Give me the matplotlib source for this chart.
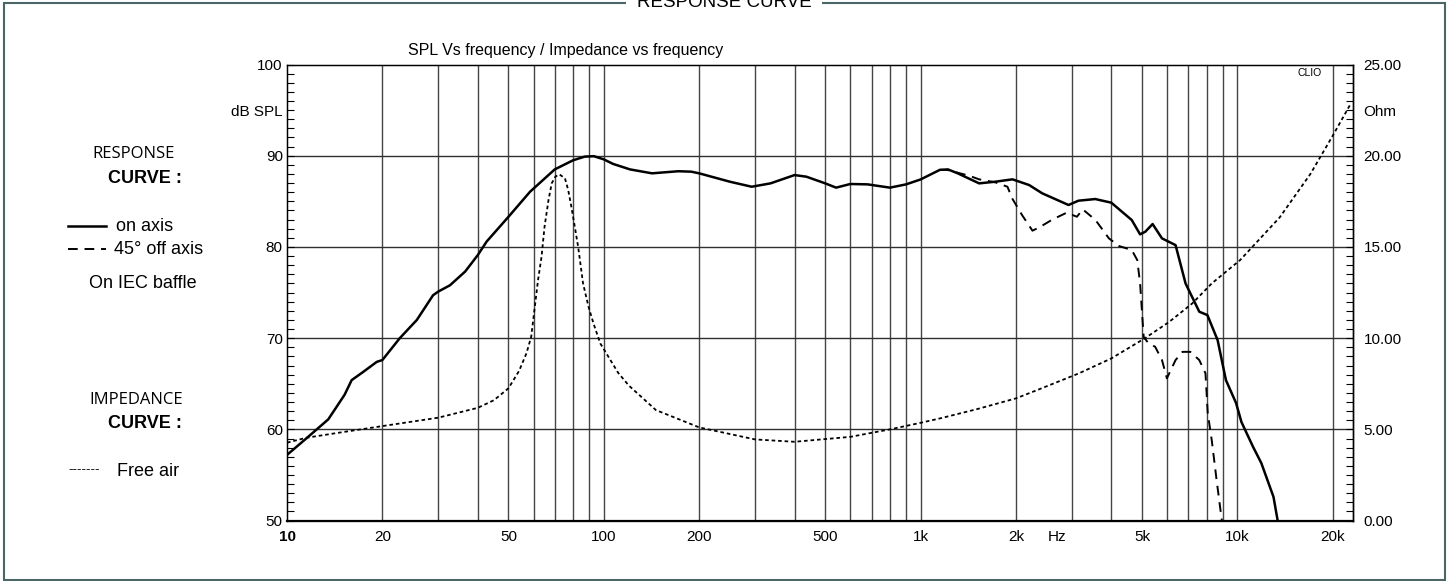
import numpy as np
import matplotlib
matplotlib.use('Agg')
import matplotlib.pyplot as plt
from matplotlib.lines import Line2D
from matplotlib.patches import Rectangle
from matplotlib.ticker import NullLocator

plt.rcParams['font.family'] = ['Liberation Sans', 'DejaVu Sans']

# SPL on axis (Hz, dB)
on_freq = [10, 11.5, 13.5, 15.2, 16.0, 17.4, 19.2, 20, 22.7, 25.7, 28.9, 30, 32.7, 36.5,
           40, 42.7, 50, 58.5, 70, 80, 87, 93, 100, 107, 121, 142, 172, 189, 200, 250,
           293, 336, 400, 436, 500, 541, 600, 680, 800, 900, 1000, 1150, 1220, 1310,
           1530, 1720, 1950, 2200, 2420, 2930, 3150, 3560, 4000, 4640, 4930, 5120, 5400,
           5780, 6380, 6860, 7580, 8040, 8660, 9200, 9900, 10300, 11200, 11900, 13000,
           13400, 13800]
on_spl = [57.2, 59.0, 61.1, 63.8, 65.4, 66.3, 67.4, 67.6, 70.0, 72.0, 74.7, 75.1, 75.8, 77.3,
          79.1, 80.6, 83.3, 86.05, 88.5, 89.5, 89.9, 89.95, 89.6, 89.1, 88.5, 88.07, 88.3,
          88.25, 88.07, 87.15, 86.6, 86.97, 87.88, 87.7, 86.97, 86.5, 86.9, 86.86, 86.5,
          86.86, 87.4, 88.45, 88.5, 88.07, 86.97, 87.15, 87.41, 86.79, 85.88, 84.6, 85.07,
          85.25, 84.85, 82.95, 81.38, 81.67, 82.51, 80.94, 80.2, 76.0, 72.9, 72.53, 69.79,
          65.4, 62.9, 60.8, 58.1, 56.3, 52.6, 50.0, 48.0]

# SPL 45 deg off axis (Hz, dB)
off_freq = [1150, 1220, 1433, 1530, 1722, 1880, 1945, 2090, 2255, 2370, 2615, 2890, 3115,
            3250, 3565, 3930, 4230, 4640, 4830, 4930, 5060, 5240, 5500, 5780, 5990, 6380,
            6710, 7100, 7580, 7930, 8060, 8300, 8600, 8900, 9100]
off_spl = [88.45, 88.43, 87.77, 87.41, 87.08, 86.6, 85.33, 83.5, 81.78, 82.15, 83.03, 83.75,
           83.31, 84.12, 82.95, 80.94, 80.1, 79.66, 78.56, 76.0, 70.15, 69.43, 69.06, 67.6,
           65.6, 67.6, 68.5, 68.5, 67.6, 66.14, 61.8, 58.8, 54.4, 50.4, 48.0]

# impedance free air (Hz, Ohm)
imp_freq = [10, 11.5, 15, 20, 30, 40, 45, 50, 54, 57, 59, 62, 63.6, 65, 66.9, 68.5, 70.3,
            72.4, 75.4, 77.2, 79, 81, 83, 86, 89.5, 92.8, 97.5, 111, 120, 146, 200, 300,
            400, 600, 800, 1000, 1150, 1500, 2000, 2330, 3160, 4000, 5100, 6100, 7200,
            8300, 10200, 13600, 17000, 20000, 22700]
imp_ohm = [4.27, 4.54, 4.85, 5.18, 5.64, 6.18, 6.6, 7.25, 8.2, 9.17, 10.08, 13.18, 14.46,
           16.1, 17.57, 18.49, 18.85, 18.98, 18.76, 18.12, 17.2, 16.1, 15.0, 13.0, 11.72,
           10.8, 9.71, 8.1, 7.4, 6.06, 5.11, 4.45, 4.32, 4.59, 5.0, 5.36, 5.6, 6.1, 6.7,
           7.15, 8.07, 8.89, 9.99, 10.9, 11.9, 13.0, 14.28, 16.62, 19.0, 21.1, 22.8]

x_ticks = [10, 20, 50, 100, 200, 500, 1000, 2000, 2700, 5000, 10000, 20000]
x_labels = ['10', '20', '50', '100', '200', '500', '1k', '2k', 'Hz', '5k', '10k', '20k']
spl_ticks = [50, 60, 70, 80, 90, 95, 100]
spl_labels = ['50', '60', '70', '80', '90', 'dB SPL', '100']
ohm_ticks = [0, 5, 10, 15, 20, 22.5, 25]
ohm_labels = ['0.00', '5.00', '10.00', '15.00', '20.00', 'Ohm', '25.00']

W, H = 1453, 581


def fx(x):
    return x / W


def fy(y):
    return 1 - y / H


fig = plt.figure(figsize=(W / 100, H / 100), dpi=100)
ax = fig.add_axes([fx(287), fy(520.6), (1352.6 - 287) / W, (520.6 - 64.5) / H])
ax.set_xscale('log')
ax.set_xlim(10, 10 ** (1 + (1352.6 - 287) / 316.8))
ax.set_ylim(50, 100)

# grid
grid_f = [m * 10 ** d for d in range(1, 5) for m in range(2, 10) if m * 10 ** d < 22000]
grid_f += [100, 1000, 10000]
for f in grid_f:
    ax.axvline(f, color='#454545', lw=1.0, zorder=1)
for v in [60, 70, 80, 90]:
    ax.axhline(v, color='#303030', lw=1.0, zorder=1)

ax.plot(on_freq, on_spl, color='black', lw=1.8, zorder=4, solid_joinstyle='round')
ax.plot(off_freq, off_spl, color='black', lw=1.4, ls=(0, (5, 3.5)), zorder=3)

ax.set_xticks(x_ticks, x_labels)
ax.xaxis.set_minor_locator(NullLocator())
ax.tick_params(axis='x', length=0, pad=7, labelsize=11)
ax.get_xticklabels()[0].set_fontweight('bold')
ax.set_yticks(spl_ticks, spl_labels)
ax.set_yticks(np.arange(50, 101, 1), minor=True)
ax.tick_params(axis='y', which='both', direction='in', length=5, width=0.8, pad=3,
               labelsize=11)
for s in ['top', 'left', 'right']:
    ax.spines[s].set_linewidth(1.0)
ax.spines['bottom'].set_linewidth(1.6)

ax2 = ax.twinx()
ax2.set_ylim(0, 25)
ax2.plot(imp_freq, imp_ohm, color='black', lw=1.3, ls=(0, (2, 1.6)), zorder=3)
ax2.set_yticks(ohm_ticks, ohm_labels)
ax2.set_yticks(np.arange(0, 25.01, 0.5), minor=True)
ax2.tick_params(axis='y', which='both', direction='in', length=5, width=0.8, pad=8,
                labelsize=11)
ax2.spines['right'].set_linewidth(1.0)

# texts
fig.text(fx(566), fy(55), 'SPL Vs frequency / Impedance vs frequency', fontsize=11.5,
         ha='center', va='baseline')
fig.text(fx(1310), fy(73), 'CLIO', fontsize=7.5, ha='center', va='center')

# outer frame
fig.add_artist(Rectangle((fx(3.5), fy(579.5)), (1445 - 3.5) / W, (579.5 - 3) / H,
                         transform=fig.transFigure, fill=False, ec='#4a6666', lw=1.5))
fig.text(fx(724), fy(7), 'RESPONSE CURVE', fontsize=13.5, ha='center', va='baseline',
         bbox=dict(fc='white', ec='none', pad=8))

# left legend
fig.text(fx(134), fy(154), 'RESPONSE', family=['Open Sans', 'DejaVu Sans'], fontsize=12,
         ha='center', va='center')
fig.text(fx(145), fy(178.5), 'CURVE :', fontsize=13, fontweight='bold', ha='center', va='center')
fig.add_artist(Line2D([fx(68), fx(106)], [fy(226), fy(226)], transform=fig.transFigure,
                      color='black', lw=1.8))
fig.text(fx(116), fy(226), 'on axis', fontsize=13, ha='left', va='center')
fig.add_artist(Line2D([fx(68), fx(106)], [fy(249), fy(249)], transform=fig.transFigure,
                      color='black', lw=1.4, ls=(0, (5, 3.5))))
fig.text(fx(114), fy(249), '45° off axis', fontsize=13, ha='left', va='center')
fig.text(fx(89), fy(284), 'On IEC baffle', fontsize=13, ha='left', va='center')
fig.text(fx(136), fy(400), 'IMPEDANCE', family=['Open Sans', 'DejaVu Sans'], fontsize=12,
         ha='center', va='center')
fig.text(fx(145), fy(423), 'CURVE :', fontsize=13, fontweight='bold', ha='center', va='center')
fig.text(fx(68), fy(470), '-------', fontsize=9.5, ha='left', va='center')
fig.text(fx(117), fy(471.5), 'Free air', fontsize=13, ha='left', va='center')

fig.savefig('out.png', dpi=100)
